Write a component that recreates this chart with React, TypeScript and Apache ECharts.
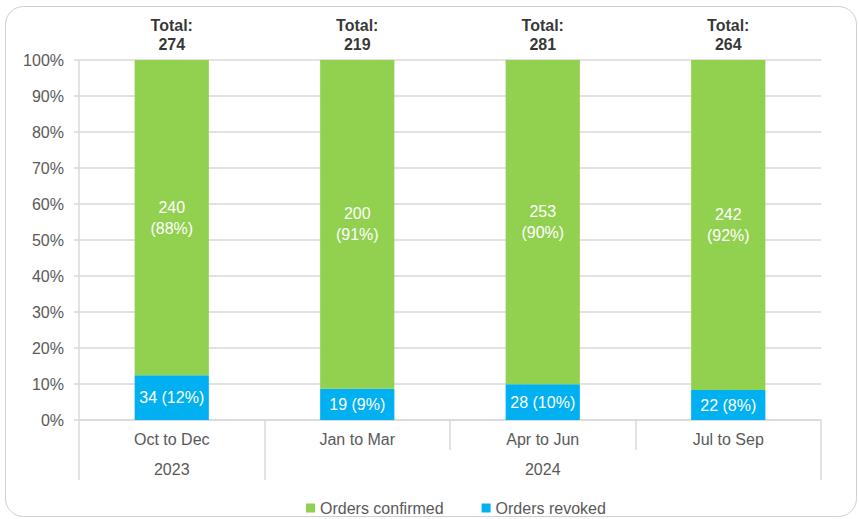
import React, { useEffect, useRef } from "react";
import * as echarts from "echarts";

const quarters = ["Oct to Dec", "Jan to Mar", "Apr to Jun", "Jul to Sep"];
const years = ["2023", "", "2024", ""];
const confirmed = [240, 200, 253, 242];
const revoked = [34, 19, 28, 22];
const totals = confirmed.map((c, i) => c + revoked[i]);
const yTicks = [0, 10, 20, 30, 40, 50, 60, 70, 80, 90, 100];

const GREEN = "#92D050";
const BLUE = "#00B0F0";
const FONT = "'Liberation Sans', Arial, sans-serif";

export default function App() {
  const ref = useRef<HTMLDivElement>(null);
  useEffect(() => {
    if (!ref.current) return;
    const chart = echarts.init(ref.current, null, { renderer: "svg" });
    const confPct = confirmed.map((c, i) => (c / totals[i]) * 100);
    const revPct = revoked.map((r, i) => (r / totals[i]) * 100);
    chart.setOption({
      animation: false,
      textStyle: { fontFamily: FONT },
      graphic: [
        {
          type: "rect",
          shape: { x: 5.5, y: 6.5, width: 851, height: 510, r: 18 },
          style: { fill: "none", stroke: "#cfcfcf", lineWidth: 1 },
          silent: true,
        },
      ],
      grid: { left: 79, right: 38, top: 60, bottom: 99 },
      legend: {
        left: 301,
        top: 495,
        icon: "rect",
        itemWidth: 9,
        itemHeight: 9,
        itemGap: 38,
        data: ["Orders confirmed", "Orders revoked"],
        textStyle: { fontFamily: FONT, fontSize: 16, color: "#595959" },
      },
      xAxis: [
        {
          type: "category",
          data: quarters,
          position: "bottom",
          axisLine: { show: true, lineStyle: { color: "#d9d9d9", width: 1.5 } },
          axisTick: { show: true, length: 30, lineStyle: { color: "#d9d9d9", width: 1.5 } },
          axisLabel: { fontFamily: FONT, fontSize: 16, color: "#595959", margin: 11, interval: 0 },
        },
        {
          type: "category",
          data: years,
          position: "bottom",
          offset: 30,
          axisLine: { show: false },
          axisTick: {
            show: true,
            length: 30,
            interval: (index: number) => index === 0 || index === 1,
            lineStyle: { color: "#d9d9d9", width: 1.5 },
          },
          axisLabel: { fontFamily: FONT, fontSize: 16, color: "#595959", margin: 11, interval: 0 },
        },
      ],
      yAxis: {
        type: "value",
        min: 0,
        max: 100,
        interval: 10,
        axisLine: { show: true, lineStyle: { color: "#d9d9d9", width: 1.5 } },
        axisTick: { show: true, length: 5, lineStyle: { color: "#d9d9d9", width: 1.5 } },
        splitLine: { show: true, lineStyle: { color: "#d9d9d9", width: 1.5 } },
        axisLabel: {
          fontFamily: FONT,
          fontSize: 16,
          color: "#595959",
          margin: 15,
          formatter: (v: number) => (yTicks.includes(v) ? v + "%" : ""),
        },
      },
      series: [
        {
          name: "Orders revoked",
          type: "bar",
          stack: "s",
          barWidth: "40%",
          itemStyle: { color: BLUE },
          data: revPct,
          label: {
            show: true,
            position: "inside",
            color: "#fff",
            fontFamily: FONT,
            fontSize: 16,
            formatter: (p: any) => `${revoked[p.dataIndex]} (${Math.round(revPct[p.dataIndex])}%)`,
          },
        },
        {
          name: "Orders confirmed",
          type: "bar",
          stack: "s",
          barWidth: "40%",
          itemStyle: { color: GREEN },
          data: confPct,
          label: {
            show: true,
            position: "inside",
            color: "#fff",
            fontFamily: FONT,
            fontSize: 16,
            lineHeight: 21,
            formatter: (p: any) => `${confirmed[p.dataIndex]}\n(${Math.round(confPct[p.dataIndex])}%)`,
          },
        },
        {
          name: "Total",
          type: "scatter",
          symbolSize: 0,
          data: totals.map(() => 100),
          silent: true,
          label: {
            show: true,
            position: "top",
            distance: 6,
            color: "#000",
            fontFamily: FONT,
            fontSize: 16,
            fontWeight: "bold",
            lineHeight: 19,
            formatter: (p: any) => `Total:\n${totals[p.dataIndex]}`,
          },
        },
      ],
    });
    return () => chart.dispose();
  }, []);
  return (
    <div
      ref={ref}
      style={{ position: "fixed", left: 0, top: 0, width: 859, height: 519, background: "#fff" }}
    />
  );
}
